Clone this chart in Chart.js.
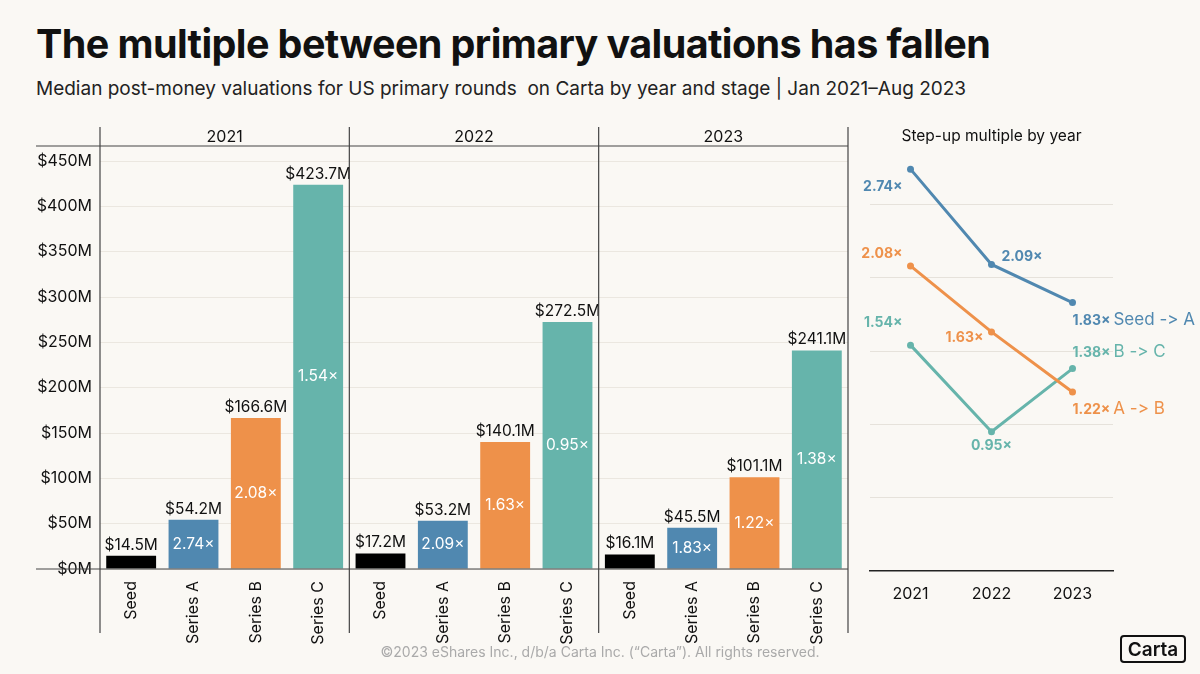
<!DOCTYPE html>
<html><head><meta charset="utf-8">
<script src="https://cdn.jsdelivr.net/npm/chart.js@4"></script>
<style>
body{margin:0;width:1200px;height:674px;background:#faf8f4;font-family:Inter,"Noto Sans",sans-serif;position:relative;overflow:hidden}
#title{position:absolute;left:36px;top:20px;font-size:39.5px;font-weight:700;color:#111;letter-spacing:-0.6px}
#sub{position:absolute;left:36px;top:77px;font-size:19px;color:#222}
#foot{position:absolute;left:0;width:1200px;top:643px;text-align:center;font-size:14px;color:#aaa}
#logo{position:absolute;left:1120px;top:635px;width:66px;height:28px;border:2px solid #111;border-radius:4px;font-size:19px;font-weight:600;text-align:center;line-height:25px;box-sizing:border-box;color:#111}
</style></head><body>
<div id="title">The multiple between primary valuations has fallen</div>
<div id="sub">Median post-money valuations for US primary rounds&nbsp; on Carta by year and stage | Jan 2021–Aug 2023</div>
<div style="position:absolute;left:0;top:0;width:850px;height:674px"><canvas id="c1"></canvas></div>
<div style="position:absolute;left:850px;top:0;width:350px;height:674px"><canvas id="c2"></canvas></div>
<div id="foot">©2023 eShares Inc., d/b/a Carta Inc. (“Carta”). All rights reserved.</div>
<div id="logo">Carta</div>
<script>
const years=["2021","2022","2023"];
const stages=["Seed","Series A","Series B","Series C"];
const seedVals=[14.5,17.2,16.1];
const aVals=[54.2,53.2,45.5];
const bVals=[166.6,140.1,101.1];
const cVals=[423.7,272.5,241.1];
const seedToA=[2.74,2.09,1.83];
const aToB=[2.08,1.63,1.22];
const bToC=[1.54,0.95,1.38];
const yTicks=[0,50,100,150,200,250,300,350,400,450];

const colors=["#000000","#5088b0","#ee914a","#66b4ab"];
const labels=[],values=[],mults=[],barColors=[];
years.forEach((y,i)=>{
  [seedVals[i],aVals[i],bVals[i],cVals[i]].forEach((v,j)=>{
    labels.push(stages[j]);values.push(v);barColors.push(colors[j]);
    mults.push(j==0?null:[seedToA,aToB,bToC][j-1][i]);
  });
});
const F='Inter,"Noto Sans",sans-serif';
const dark='#444';
const barPlugin={id:'bp',afterDraw(ch){
  const c=ch.ctx,x=ch.scales.x,y=ch.scales.y,meta=ch.getDatasetMeta(0);
  c.save();
  c.font='15.5px '+F;c.textAlign='center';c.textBaseline='bottom';
  meta.data.forEach((b,i)=>{
    c.fillStyle='#111';c.fillText('$'+values[i].toFixed(1)+'M',b.x,b.y-3);
    if(mults[i]!=null){c.fillStyle='#fff';c.textBaseline='middle';c.fillText(mults[i].toFixed(2)+'×',b.x,(b.y+b.base)/2);c.textBaseline='bottom';}
  });
  const step=(x.getPixelForValue(1)-x.getPixelForValue(0));
  c.strokeStyle=dark;c.lineWidth=1.2;
  for(let k=0;k<=3;k++){
    const px=x.getPixelForValue(k*4)-step/2;
    c.beginPath();c.moveTo(px,127);c.lineTo(px,633);c.stroke();
  }
  c.beginPath();c.moveTo(36,146);c.lineTo(x.right,146);c.stroke();
  c.beginPath();c.moveTo(36,y.bottom);c.lineTo(x.right,y.bottom);c.stroke();
  c.fillStyle='#111';c.font='16px '+F;c.textBaseline='middle';
  years.forEach((yr,k)=>{
    const px=(x.getPixelForValue(k*4)+x.getPixelForValue(k*4+3))/2;
    c.fillText(yr,px,137);
  });
  c.restore();
}};
new Chart(document.getElementById('c1'),{type:'bar',
 data:{labels,datasets:[{data:values,backgroundColor:barColors,barPercentage:0.8,categoryPercentage:1}]},
 options:{responsive:true,maintainAspectRatio:false,animation:false,
  layout:{padding:{left:0,top:161,right:2,bottom:0}},
  plugins:{legend:{display:false},tooltip:{enabled:false}},
  scales:{
   x:{offset:true,grid:{display:false},border:{display:false},
      ticks:{minRotation:90,maxRotation:90,color:'#111',font:{size:16,family:F},padding:4},
      afterFit(s){s.height=105;}},
   y:{min:0,max:450,afterBuildTicks(s){s.ticks=yTicks.map(v=>({value:v}));},
      grid:{color:'#ebe7e0',drawTicks:false},border:{display:false},
      ticks:{color:'#111',font:{size:16,family:F},padding:8,callback:v=>'$'+v+'M'},
      afterFit(s){s.width=100;}}
  }},plugins:[barPlugin]});

// right chart
const lineColors=["#5088b0","#ee914a","#66b4ab"];
const seriesNames=["Seed -\u200C> A","A -\u200C> B","B -\u200C> C"];
const lineData=[seedToA,aToB,bToC];
const offs=[
 [[-8,18,'right'],[10,-8,'left'],[0,18,'left']],
 [[-8,-12,'right'],[-8,6,'right'],[0,18,'left']],
 [[-8,-22,'right'],[0,14,'center'],[0,-16,'left']]
];
const linePlugin={id:'lp',afterDraw(ch){
  const c=ch.ctx;c.save();
  c.textBaseline='middle';
  lineData.forEach((d,s)=>{
    const meta=ch.getDatasetMeta(s);
    meta.data.forEach((p,i)=>{
      const o=offs[s][i];
      c.fillStyle=lineColors[s];c.font='bold 14px '+F;c.textAlign=o[2];
      const tx=p.x+o[0],ty=p.y+o[1];
      const t=d[i].toFixed(2)+'×';
      c.fillText(t,tx,ty);
      if(i==2){
        const w=c.measureText(t).width;
        c.font='17px '+F;c.textAlign='left';
        c.fillText(seriesNames[s],tx+w+3,ty-1);
      }
    });
  });
  c.fillStyle='#111';c.font='15.5px '+F;c.textAlign='center';
  c.fillText('Step-up multiple by year',(ch.chartArea.left+ch.chartArea.right)/2,136);
  c.restore();
}};
new Chart(document.getElementById('c2'),{type:'line',
 data:{labels:years,datasets:lineData.map((d,s)=>({data:d,borderColor:lineColors[s],backgroundColor:lineColors[s],borderWidth:3,pointRadius:3.5,pointBorderWidth:0}))},
 options:{responsive:true,maintainAspectRatio:false,animation:false,
  layout:{padding:{left:20,top:131,right:87,bottom:0}},
  plugins:{legend:{display:false},tooltip:{enabled:false}},
  scales:{
   x:{offset:true,grid:{display:false},border:{display:true,color:'#222',width:1.5},
      ticks:{color:'#111',font:{size:16,family:F},padding:6},afterFit(s){s.height=103;}},
   y:{min:0,max:3,ticks:{display:false,stepSize:0.5},
      grid:{drawTicks:false,color:(g)=>{const v=g&&g.tick?g.tick.value:0;return (v>0&&v<3)?'#e6e2db':'rgba(0,0,0,0)';}},
      border:{display:false},afterFit(s){s.width=0;}}
  }},plugins:[linePlugin]});
</script>
</body></html>
